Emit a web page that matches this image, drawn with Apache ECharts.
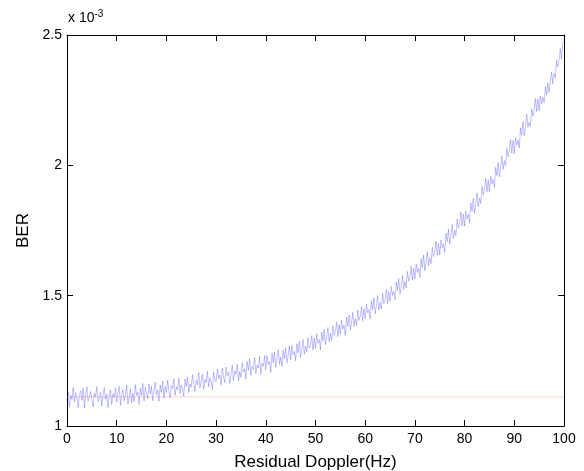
<!DOCTYPE html>
<html>
<head>
<meta charset="utf-8">
<script src="https://cdn.jsdelivr.net/npm/echarts@6/dist/echarts.min.js"></script>
<style>html,body{margin:0;padding:0;background:#fff}#c{width:584px;height:471px}</style>
</head>
<body>
<div id="c"></div>
<script>
// Residual Doppler (Hz), sampled every 0.25 Hz from 0 to 100
const dopplerStart = 0, dopplerStep = 0.25;
// BER values in units of 1e-3 (one row per 5 Hz)
const berValues = [
1.098,1.131,1.072,1.117,1.102,1.148,1.093,1.128,1.110,1.070,1.121,1.135,1.099,1.146,1.068,1.119,1.150,1.096,1.108,1.132,
1.101,1.074,1.125,1.112,1.151,1.094,1.106,1.129,1.076,1.118,1.148,1.103,1.122,1.071,1.116,1.139,1.083,1.124,1.109,1.147,
1.092,1.128,1.152,1.079,1.121,1.140,1.095,1.119,1.157,1.084,1.112,1.143,1.088,1.126,1.094,1.159,1.118,1.129,1.081,1.146,
1.118,1.163,1.096,1.149,1.127,1.104,1.161,1.123,1.152,1.097,1.133,1.168,1.119,1.138,1.095,1.157,1.129,1.172,1.106,1.151,
1.128,1.176,1.137,1.109,1.155,1.143,1.181,1.118,1.150,1.139,1.184,1.124,1.158,1.145,1.115,1.180,1.152,1.188,1.128,1.161,
1.149,1.196,1.164,1.133,1.176,1.158,1.205,1.146,1.170,1.199,1.141,1.179,1.166,1.210,1.150,1.184,1.172,1.139,1.207,1.178,
1.169,1.218,1.181,1.196,1.158,1.222,1.188,1.166,1.226,1.193,1.207,1.163,1.199,1.233,1.176,1.212,1.198,1.238,1.173,1.209,
1.186,1.243,1.207,1.219,1.180,1.248,1.214,1.257,1.194,1.228,1.217,1.262,1.201,1.233,1.222,1.266,1.199,1.241,1.229,1.270,
1.216,1.271,1.236,1.248,1.206,1.279,1.243,1.284,1.225,1.257,1.293,1.236,1.264,1.228,1.291,1.258,1.300,1.241,1.273,1.307,
1.254,1.309,1.274,1.286,1.250,1.316,1.281,1.325,1.263,1.296,1.331,1.275,1.307,1.283,1.338,1.299,1.313,1.347,1.292,1.338,
1.298,1.353,1.318,1.332,1.293,1.361,1.327,1.371,1.312,1.343,1.378,1.324,1.355,1.330,1.385,1.347,1.362,1.398,1.343,1.389,
1.352,1.406,1.372,1.387,1.347,1.418,1.383,1.426,1.368,1.399,1.436,1.382,1.411,1.386,1.445,1.405,1.421,1.458,1.404,1.449,
1.412,1.468,1.434,1.447,1.410,1.481,1.446,1.491,1.430,1.462,1.500,1.445,1.474,1.449,1.509,1.470,1.486,1.524,1.469,1.515,
1.479,1.535,1.501,1.516,1.484,1.553,1.519,1.566,1.506,1.538,1.578,1.524,1.553,1.530,1.593,1.556,1.572,1.613,1.559,1.604,
1.564,1.621,1.589,1.604,1.570,1.642,1.608,1.656,1.596,1.628,1.669,1.615,1.645,1.623,1.686,1.650,1.667,1.709,1.654,1.700,
1.656,1.714,1.683,1.699,1.666,1.740,1.707,1.756,1.697,1.730,1.773,1.719,1.751,1.730,1.794,1.760,1.778,1.821,1.767,1.813,
1.767,1.825,1.795,1.812,1.780,1.855,1.823,1.873,1.816,1.850,1.894,1.841,1.874,1.854,1.919,1.887,1.906,1.950,1.897,1.944,
1.899,1.958,1.929,1.947,1.916,1.992,1.961,2.012,1.956,1.991,2.036,1.984,2.018,1.999,2.065,2.034,2.054,2.099,2.047,2.095,
2.045,2.105,2.077,2.097,2.067,2.144,2.115,2.167,2.113,2.149,2.196,2.146,2.166,2.149,2.217,2.188,2.210,2.256,2.206,2.255,
2.209,2.267,2.236,2.262,2.241,2.303,2.270,2.317,2.279,2.321,2.357,2.312,2.351,2.337,2.404,2.378,2.401,2.448,2.408,2.469,
2.478
];
// Reference (flat) BER level, units of 1e-3
const refX = [0, 100];
const refBer = [1.112, 1.112];
const xTicks = [0,10,20,30,40,50,60,70,80,90,100];
const yTicks = [1, 1.5, 2, 2.5];

const mainData = berValues.map((v,i)=>[dopplerStart + i*dopplerStep, v]);
const refData = refX.map((x,i)=>[x, refBer[i]]);

const font = 'Liberation Sans, Arial, Helvetica, sans-serif';
const chart = echarts.init(document.getElementById('c'), null, {renderer:'canvas'});
const axLine = {show:true, onZero:false, lineStyle:{color:'#000', width:1}};
const tick = {show:true, inside:true, length:6, lineStyle:{color:'#000', width:1}};
const hiddenLabel = {show:true, color:'rgba(0,0,0,0)', fontSize:10, formatter:()=>' '};
chart.setOption({
  animation:false,
  backgroundColor:'#fff',
  grid:{left:67, right:20, top:35, bottom:45, containLabel:false, outerBoundsMode:'none'},
  xAxis:[
    {type:'value', min:xTicks[0], max:xTicks[xTicks.length-1], interval:10, position:'bottom',
     axisLine:axLine, axisTick:tick, splitLine:{show:false},
     axisLabel:{color:'#000', fontSize:14, fontFamily:font, margin:6},
     name:'Residual Doppler(Hz)', nameLocation:'middle', nameGap:28,
     nameTextStyle:{color:'#000', fontSize:17, fontFamily:font}},
    {type:'value', min:0, max:100, interval:10, position:'top',
     axisLine:axLine, axisTick:tick, axisLabel:hiddenLabel, splitLine:{show:false}}
  ],
  yAxis:[
    {type:'value', min:yTicks[0], max:yTicks[yTicks.length-1], interval:0.5, position:'left',
     axisLine:axLine, axisTick:tick, splitLine:{show:false},
     axisLabel:{color:'#000', fontSize:14, fontFamily:font, margin:5},
     name:'BER', nameLocation:'middle', nameGap:27, nameRotate:90,
     nameTextStyle:{color:'#000', fontSize:17, fontFamily:font}},
    {type:'value', min:1, max:2.5, interval:0.5, position:'right',
     axisLine:axLine, axisTick:tick, axisLabel:hiddenLabel, splitLine:{show:false}}
  ],
  series:[
    {type:'line', data:refData, symbol:'none', silent:true, xAxisIndex:1, yAxisIndex:1,
     lineStyle:{color:'#ffb0b0', width:1, opacity:0.6}, z:1},
    {type:'line', data:mainData, symbol:'none', silent:true, xAxisIndex:0, yAxisIndex:0,
     lineStyle:{color:'#0000ff', width:0.6, opacity:0.42}, z:2}
  ],
  graphic:[
    {type:'text', left:68, top:9,
     style:{rich:{a:{fontSize:14, fontFamily:font, fill:'#000'}, b:{fontSize:10, fontFamily:font, fill:'#000', verticalAlign:'top', padding:[0,0,9,0]}},
            text:'{a|x 10}{b|-3}'}}
  ]
});
</script>
</body>
</html>
